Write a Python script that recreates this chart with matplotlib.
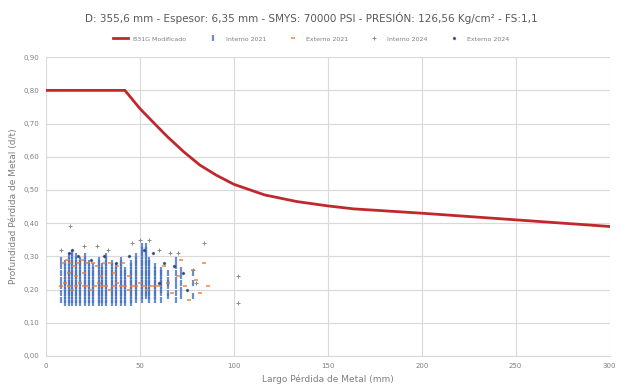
import matplotlib
matplotlib.use("Agg")
import matplotlib.pyplot as plt

# curva B31G modificado
curva_x = [0, 42, 50, 56, 64.7, 73.3, 81.9, 90.5, 100, 116.4, 133.6, 150, 163.8, 200, 250, 300]
curva_y = [0.80, 0.80, 0.745, 0.71, 0.66, 0.615, 0.575, 0.545, 0.517, 0.485, 0.465, 0.452, 0.443, 0.43, 0.41, 0.39]

# Interno 2021 (columnas: largo, profundidades)
int21_cols = [
    (8,  [0.17, 0.19, 0.21, 0.23, 0.25, 0.27, 0.29]),
    (10, [0.16, 0.17, 0.18, 0.19, 0.20, 0.21, 0.22, 0.23, 0.24, 0.25, 0.26, 0.27, 0.28]),
    (12, [0.16, 0.17, 0.18, 0.19, 0.20, 0.21, 0.22, 0.23, 0.24, 0.25, 0.26, 0.27, 0.28, 0.29, 0.30]),
    (14, [0.16, 0.17, 0.18, 0.19, 0.20, 0.21, 0.22, 0.23, 0.24, 0.25, 0.26, 0.27, 0.28, 0.29, 0.30, 0.31]),
    (16, [0.16, 0.17, 0.18, 0.19, 0.20, 0.21, 0.22, 0.23, 0.24, 0.25, 0.26, 0.27, 0.28, 0.29, 0.30]),
    (18, [0.16, 0.17, 0.18, 0.19, 0.20, 0.21, 0.22, 0.23, 0.24, 0.25, 0.26, 0.27, 0.28, 0.29]),
    (21, [0.16, 0.17, 0.18, 0.19, 0.20, 0.21, 0.22, 0.23, 0.24, 0.25, 0.26, 0.27, 0.28, 0.29, 0.30]),
    (23, [0.16, 0.17, 0.18, 0.19, 0.20, 0.21, 0.22, 0.23, 0.24, 0.25, 0.26, 0.27, 0.28]),
    (25, [0.16, 0.17, 0.18, 0.19, 0.20, 0.21, 0.22, 0.23, 0.24, 0.25, 0.26, 0.27]),
    (28, [0.16, 0.17, 0.18, 0.19, 0.20, 0.21, 0.22, 0.23, 0.24, 0.25, 0.26, 0.27, 0.28, 0.29]),
    (30, [0.16, 0.17, 0.18, 0.19, 0.20, 0.21, 0.22, 0.23, 0.24, 0.25, 0.26, 0.27]),
    (32, [0.16, 0.17, 0.18, 0.19, 0.20, 0.21, 0.22, 0.23, 0.24, 0.25, 0.26, 0.27, 0.28, 0.29, 0.30]),
    (35, [0.16, 0.17, 0.18, 0.19, 0.20, 0.21, 0.22, 0.23, 0.24, 0.25, 0.26, 0.27, 0.28]),
    (37, [0.16, 0.17, 0.18, 0.19, 0.20, 0.21, 0.22, 0.23, 0.24, 0.25, 0.26, 0.27]),
    (40, [0.16, 0.17, 0.18, 0.19, 0.20, 0.21, 0.22, 0.23, 0.24, 0.25, 0.26, 0.27, 0.28, 0.29]),
    (42, [0.16, 0.17, 0.18, 0.19, 0.20, 0.21, 0.22, 0.23, 0.24, 0.25, 0.26]),
    (45, [0.16, 0.17, 0.18, 0.19, 0.20, 0.21, 0.22, 0.23, 0.24, 0.25, 0.26, 0.27, 0.28]),
    (48, [0.17, 0.18, 0.19, 0.20, 0.21, 0.22, 0.23, 0.24, 0.25, 0.26, 0.27, 0.28, 0.29, 0.30]),
    (51, [0.17, 0.18, 0.19, 0.20, 0.21, 0.22, 0.23, 0.24, 0.25, 0.26, 0.27, 0.28, 0.29, 0.30, 0.31, 0.32, 0.33]),
    (53, [0.18, 0.19, 0.20, 0.21, 0.22, 0.23, 0.24, 0.25, 0.26, 0.27, 0.28, 0.29, 0.30, 0.31, 0.32, 0.33]),
    (55, [0.17, 0.18, 0.19, 0.20, 0.21, 0.22, 0.23, 0.24, 0.25, 0.26, 0.27, 0.28, 0.29]),
    (58, [0.17, 0.18, 0.19, 0.20, 0.21, 0.22, 0.23, 0.24, 0.25, 0.26, 0.27]),
    (61, [0.17, 0.19, 0.20, 0.21, 0.22, 0.23, 0.24, 0.25, 0.26]),
    (65, [0.18, 0.19, 0.21, 0.22, 0.23, 0.25]),
    (69, [0.17, 0.19, 0.21, 0.23, 0.25, 0.27, 0.29]),
    (72, [0.18, 0.20, 0.22, 0.24, 0.26]),
    (78, [0.18, 0.22, 0.25]),
]

# Externo 2021
ext21_x = [8, 10, 12, 14, 16, 18, 20, 22, 24, 26, 28, 30, 32, 34, 36, 38, 40, 42, 44, 46, 48, 50, 52, 54, 56, 58, 60,
           9, 11, 13, 15, 17, 19, 22, 25, 27, 31, 34, 38, 41,
           12, 16, 20, 29, 36, 44,
           63, 65, 67, 70, 72, 74, 76, 78, 80, 82, 84, 86]
ext21_y = [0.21, 0.22, 0.21, 0.20, 0.21, 0.22, 0.21, 0.21, 0.20, 0.21, 0.22, 0.21, 0.21, 0.20, 0.21, 0.22, 0.21, 0.21, 0.20, 0.21, 0.21, 0.22, 0.21, 0.20, 0.21, 0.21, 0.21,
           0.28, 0.29, 0.28, 0.27, 0.28, 0.29, 0.28, 0.28, 0.27, 0.28, 0.28, 0.27, 0.28,
           0.25, 0.24, 0.25, 0.24, 0.25, 0.24,
           0.27, 0.22, 0.19, 0.24, 0.29, 0.21, 0.17, 0.26, 0.23, 0.19, 0.28, 0.21]

# Interno 2024
int24_x = [13, 8, 20, 27, 33, 46, 50, 55, 60, 66, 70, 84, 102, 102, 78, 80]
int24_y = [0.39, 0.32, 0.33, 0.33, 0.32, 0.34, 0.35, 0.35, 0.32, 0.31, 0.31, 0.34, 0.24, 0.16, 0.26, 0.22]

# Externo 2024
ext24_x = [12, 14, 17, 24, 31, 37, 44, 52, 57, 63, 68, 73, 60, 75]
ext24_y = [0.31, 0.32, 0.30, 0.29, 0.30, 0.28, 0.30, 0.32, 0.31, 0.28, 0.27, 0.25, 0.22, 0.20]

x_ticks = [0, 50, 100, 150, 200, 250, 300]
y_ticks = [0.0, 0.1, 0.2, 0.3, 0.4, 0.5, 0.6, 0.7, 0.8, 0.9]

int21_x = [c[0] for c in int21_cols for _ in c[1]]
int21_y = [v for c in int21_cols for v in c[1]]

gris = "#7f7f7f"
fig = plt.figure(figsize=(6.22, 3.89), dpi=100)
ax = fig.add_axes([0.074, 0.085, 0.906, 0.768])

ax.plot(int21_x, int21_y, "|", color="#4472C4", markersize=4.5, markeredgewidth=1.6, label="Interno 2021", alpha=0.8)
ax.plot(ext21_x, ext21_y, "_", color="#ED7D31", markersize=3.5, markeredgewidth=1.2, label="Externo 2021", alpha=0.85)
ax.plot(int24_x, int24_y, "+", color="#8c8c8c", markersize=3, markeredgewidth=0.7, label="Interno 2024")
ax.plot(ext24_x, ext24_y, "D", color="#264478", markersize=1.2, label="Externo 2024", alpha=0.8)
ax.plot(curva_x, curva_y, color="#C0282D", linewidth=2, label="B31G Modificado", zorder=5)

ax.set_xlim(0, 300)
ax.set_ylim(0, 0.9)
ax.set_xticks(x_ticks)
ax.set_yticks(y_ticks)
ax.set_yticklabels([f"{v:.2f}".replace(".", ",") for v in y_ticks])
ax.tick_params(labelsize=5, colors=gris, length=0, pad=5)
ax.grid(True, color="#d9d9d9", linewidth=0.8)
ax.set_axisbelow(True)
for s in ["top", "right", "left"]:
    ax.spines[s].set_visible(False)
ax.spines["bottom"].set_color("#d9d9d9")

ax.set_xlabel("Largo Pérdida de Metal (mm)", fontsize=6.5, color=gris)
ax.set_ylabel("Profundidad Pérdida de Metal (d/t)", fontsize=6.5, color=gris)

fig.suptitle("D: 355,6 mm - Espesor: 6,35 mm - SMYS: 70000 PSI - PRESIÓN: 126,56 Kg/cm² - FS:1,1",
             fontsize=7.5, color="#595959", y=0.97)

h, l = ax.get_legend_handles_labels()
order = [4, 0, 1, 2, 3]
fig.legend([h[i] for i in order], [l[i] for i in order], loc="center", bbox_to_anchor=(0.5, 0.9),
           ncol=5, fontsize=4.5, frameon=False, labelcolor=gris, columnspacing=3, handlelength=2.5)

fig.savefig("out.png", dpi=100)
